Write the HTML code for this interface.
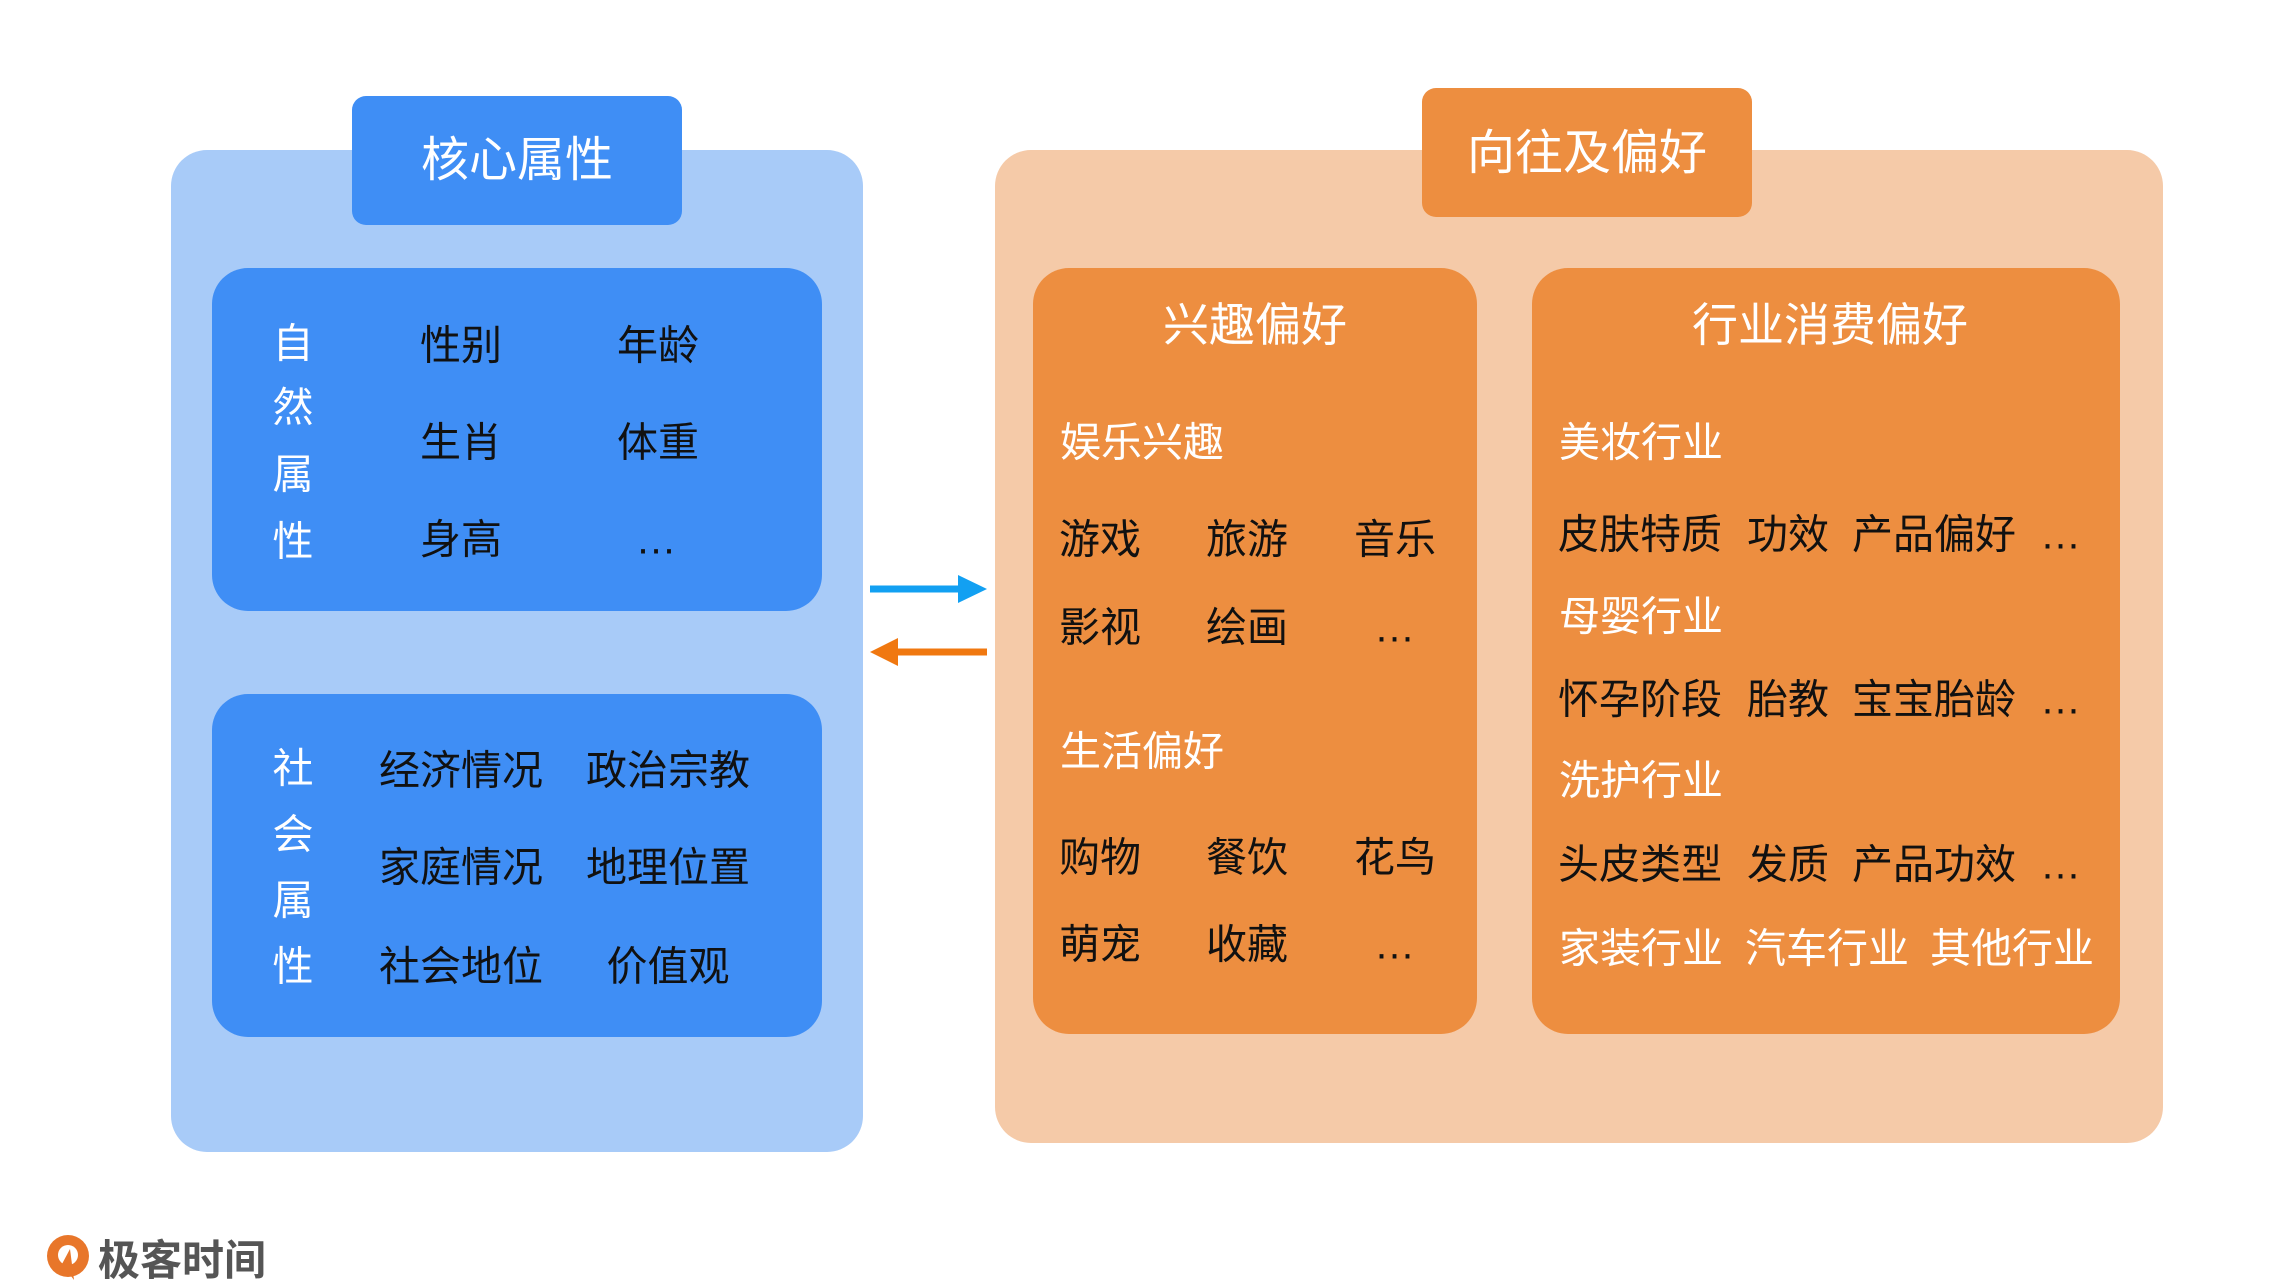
<!DOCTYPE html>
<html><head><meta charset="utf-8"><style>
body{margin:0;width:2284px;height:1285px;background:#fff;position:relative;overflow:hidden;font-family:"Liberation Sans","Noto Sans CJK SC",sans-serif;}
.b{position:absolute;}
.t{position:absolute;transform:translate(-50%,-50%);white-space:nowrap;font-size:41px;line-height:1;}
.l{position:absolute;transform:translateY(-50%);white-space:nowrap;font-size:41px;line-height:1;}
.w{color:#fff}.k{color:#111}
</style></head><body>
<div class="b" style="left:171px;top:150px;width:692px;height:1002px;background:#a8cbf8;border-radius:36px"></div>
<div class="b" style="left:352px;top:96px;width:330px;height:129px;background:#3f8ef5;border-radius:14px"></div>
<div class="t w" style="left:517px;top:161px;font-size:48px">核心属性</div>
<div class="b" style="left:212px;top:268px;width:610px;height:343px;background:#3f8ef5;border-radius:36px"></div>
<div class="b" style="left:212px;top:694px;width:610px;height:343px;background:#3f8ef5;border-radius:36px"></div>
<div class="t w" style="left:293px;top:344px">自</div><div class="t w" style="left:293px;top:408px">然</div><div class="t w" style="left:293px;top:475px">属</div><div class="t w" style="left:293px;top:542px">性</div>
<div class="t k" style="left:461px;top:346px">性别</div><div class="t k" style="left:658px;top:346px">年龄</div>
<div class="t k" style="left:461px;top:443px">生肖</div><div class="t k" style="left:658px;top:443px">体重</div>
<div class="t k" style="left:461px;top:540px">身高</div><div class="t k" style="left:656px;top:540px">…</div>
<div class="t w" style="left:293px;top:769px">社</div><div class="t w" style="left:293px;top:835px">会</div><div class="t w" style="left:293px;top:901px">属</div><div class="t w" style="left:293px;top:967px">性</div>
<div class="t k" style="left:461px;top:771px">经济情况</div><div class="t k" style="left:668px;top:771px">政治宗教</div>
<div class="t k" style="left:461px;top:868px">家庭情况</div><div class="t k" style="left:668px;top:868px">地理位置</div>
<div class="t k" style="left:461px;top:967px">社会地位</div><div class="t k" style="left:668px;top:967px">价值观</div>
<svg class="b" style="left:0;top:0" width="2284" height="1285">
<line x1="870" y1="589" x2="962" y2="589" stroke="#12a0f2" stroke-width="7"/>
<polygon points="958,575 987,589 958,603" fill="#12a0f2"/>
<line x1="895" y1="652" x2="987" y2="652" stroke="#f07810" stroke-width="7"/>
<polygon points="898,638 870,652 898,666" fill="#f07810"/>
<circle cx="68" cy="1256" r="21" fill="#e8762a"/><circle cx="68" cy="1255" r="10" fill="#fff"/>
<polygon points="62,1264 70,1249 74,1280" fill="#e8762a"/>
</svg>
<div class="l" style="left:98px;top:1261px;font-size:42px;color:#555;font-weight:bold">极客时间</div>
<div class="b" style="left:995px;top:150px;width:1168px;height:993px;background:#f5caa8;border-radius:36px"></div>
<div class="b" style="left:1422px;top:88px;width:330px;height:129px;background:#ed8e40;border-radius:14px"></div>
<div class="t w" style="left:1587px;top:154px;font-size:48px">向往及偏好</div>
<div class="b" style="left:1033px;top:268px;width:444px;height:766px;background:#ed8e40;border-radius:36px"></div>
<div class="b" style="left:1532px;top:268px;width:588px;height:766px;background:#ed8e40;border-radius:36px"></div>
<div class="t w" style="left:1255px;top:325px;font-size:46px">兴趣偏好</div>
<div class="l w" style="left:1060px;top:443px">娱乐兴趣</div>
<div class="l k" style="left:1059px;top:540px">游戏</div><div class="l k" style="left:1206px;top:540px">旅游</div><div class="l k" style="left:1354px;top:540px">音乐</div>
<div class="l k" style="left:1059px;top:628px">影视</div><div class="l k" style="left:1206px;top:628px">绘画</div><div class="l k" style="left:1374px;top:628px">…</div>
<div class="l w" style="left:1060px;top:752px">生活偏好</div>
<div class="l k" style="left:1059px;top:858px">购物</div><div class="l k" style="left:1206px;top:858px">餐饮</div><div class="l k" style="left:1354px;top:858px">花鸟</div>
<div class="l k" style="left:1059px;top:945px">萌宠</div><div class="l k" style="left:1206px;top:945px">收藏</div><div class="l k" style="left:1374px;top:945px">…</div>
<div class="t w" style="left:1830px;top:325px;font-size:46px">行业消费偏好</div>
<div class="l w" style="left:1559px;top:443px">美妆行业</div>
<div class="l k" style="left:1558px;top:535px">皮肤特质</div><div class="l k" style="left:1747px;top:535px">功效</div><div class="l k" style="left:1852px;top:535px">产品偏好</div><div class="l k" style="left:2040px;top:535px">…</div>
<div class="l w" style="left:1559px;top:617px">母婴行业</div>
<div class="l k" style="left:1558px;top:700px">怀孕阶段</div><div class="l k" style="left:1747px;top:700px">胎教</div><div class="l k" style="left:1852px;top:700px">宝宝胎龄</div><div class="l k" style="left:2040px;top:700px">…</div>
<div class="l w" style="left:1559px;top:781px">洗护行业</div>
<div class="l k" style="left:1558px;top:865px">头皮类型</div><div class="l k" style="left:1747px;top:865px">发质</div><div class="l k" style="left:1852px;top:865px">产品功效</div><div class="l k" style="left:2040px;top:865px">…</div>
<div class="l w" style="left:1559px;top:949px">家装行业</div><div class="l w" style="left:1745px;top:949px">汽车行业</div><div class="l w" style="left:1930px;top:949px">其他行业</div>
</body></html>
